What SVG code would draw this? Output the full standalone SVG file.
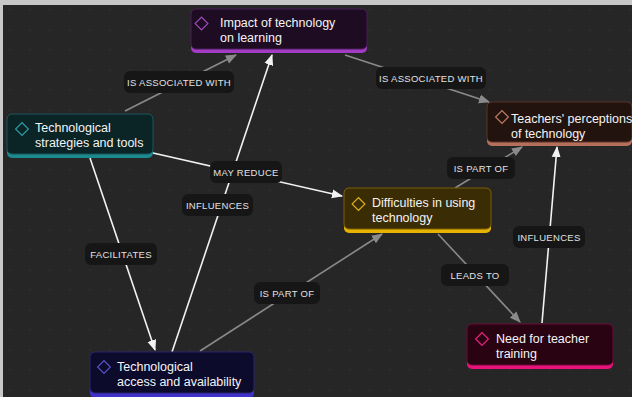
<svg xmlns="http://www.w3.org/2000/svg" width="632" height="397" viewBox="0 0 632 397">
<defs>
<pattern id="dots" width="20" height="20" patternUnits="userSpaceOnUse"><circle cx="10" cy="10" r="0.8" fill="#363636"/></pattern>
<marker id="aw" viewBox="0 0 10 10" refX="9" refY="5" markerWidth="7" markerHeight="7" orient="auto"><path d="M0,1 L10,5 L0,9 z" fill="#f2f2f2"/></marker>
<marker id="ag" viewBox="0 0 10 10" refX="9" refY="5" markerWidth="7" markerHeight="7" orient="auto"><path d="M0,1 L10,5 L0,9 z" fill="#8a8a8a"/></marker>
<style>
.w{stroke:#f2f2f2;stroke-width:1.6;fill:none;marker-end:url(#aw)}
.g{stroke:#8a8a8a;stroke-width:1.6;fill:none;marker-end:url(#ag)}
.lb{fill:#161616}
.lt{font-family:"Liberation Sans",Arial,sans-serif;font-size:9.5px;fill:#e2e2e2;text-anchor:middle;letter-spacing:0.3px}
.nt{font-family:"Liberation Sans",Arial,sans-serif;font-size:12.5px;fill:#f4f4f4}
.dm{fill:none;stroke-width:1.2}
</style>
</defs>
<rect width="632" height="397" fill="#c8c8c8"/>
<rect x="3" y="5" width="629" height="392" fill="#262626"/>
<rect x="3" y="5" width="629" height="392" fill="url(#dots)"/>
<g id="connectors">
<line class="g" x1="125" y1="111" x2="236" y2="55"/>
<line class="g" x1="345" y1="55" x2="489" y2="102"/>
<line class="w" x1="153" y1="153" x2="342" y2="196"/>
<line class="w" x1="172" y1="352" x2="272" y2="55"/>
<line class="w" x1="90" y1="158" x2="155" y2="350"/>
<line class="g" x1="200" y1="351" x2="382" y2="234"/>
<line class="g" x1="455" y1="188" x2="522" y2="147"/>
<line class="g" x1="438" y1="234" x2="520" y2="322"/>
<line class="w" x1="542" y1="323" x2="557" y2="147"/>
<rect class="lb" x="124" y="71" width="110" height="22" rx="6"/><text class="lt" x="179" y="85.5">IS ASSOCIATED WITH</text>
<rect class="lb" x="376" y="67" width="110" height="22" rx="6"/><text class="lt" x="431" y="81.5">IS ASSOCIATED WITH</text>
<rect class="lb" x="210" y="161" width="72" height="22" rx="6"/><text class="lt" x="246" y="175.5">MAY REDUCE</text>
<rect class="lb" x="182" y="194" width="71" height="22" rx="6"/><text class="lt" x="217.5" y="208.5">INFLUENCES</text>
<rect class="lb" x="85" y="243" width="72" height="22" rx="6"/><text class="lt" x="121" y="257.5">FACILITATES</text>
<rect class="lb" x="254" y="282" width="66" height="22" rx="6"/><text class="lt" x="287" y="296.5">IS PART OF</text>
<rect class="lb" x="447" y="157" width="68" height="22" rx="6"/><text class="lt" x="481" y="171.5">IS PART OF</text>
<rect class="lb" x="441" y="264" width="68" height="22" rx="6"/><text class="lt" x="475" y="278.5">LEADS TO</text>
<rect class="lb" x="513" y="226" width="72" height="22" rx="6"/><text class="lt" x="549" y="240.5">INFLUENCES</text>
</g>
<g id="n-impact">
<rect x="191" y="9" width="176" height="44" rx="5" fill="#a23cc4"/>
<rect x="191" y="9" width="176" height="40" rx="5" fill="#1e0c22" stroke="#4a1d57" stroke-width="1"/>
<rect x="197" y="19" width="9" height="9" class="dm" stroke="#9a4ab8" transform="rotate(45 201.5 23.5)"/>
<text class="nt" x="220" y="27">Impact of technology</text>
<text class="nt" x="220" y="42">on learning</text>
</g>
<g id="n-strategies">
<rect x="7" y="114" width="146" height="44" rx="5" fill="#1a8a8e"/>
<rect x="7" y="114" width="146" height="40" rx="5" fill="#0b2426" stroke="#1c5558" stroke-width="1"/>
<rect x="17.5" y="124.5" width="9" height="9" class="dm" stroke="#2a9ea2" transform="rotate(45 22 129)"/>
<text class="nt" x="35" y="132">Technological</text>
<text class="nt" x="35" y="147">strategies and tools</text>
</g>
<g id="n-teachers">
<rect x="487" y="102" width="145" height="44" rx="5" fill="#b5705c"/>
<rect x="487" y="102" width="145" height="40" rx="5" fill="#22130f" stroke="#5a3328" stroke-width="1"/>
<rect x="497.5" y="112.5" width="9" height="9" class="dm" stroke="#c07a64" transform="rotate(45 502 117)"/>
<text class="nt" x="511" y="123">Teachers' perceptions</text>
<text class="nt" x="511" y="138">of technology</text>
</g>
<g id="n-difficulties">
<rect x="344" y="188" width="147" height="45" rx="5" fill="#e6b400"/>
<rect x="344" y="188" width="147" height="41" rx="5" fill="#3a2c05" stroke="#7a5d08" stroke-width="1"/>
<rect x="354" y="199.5" width="9" height="9" class="dm" stroke="#e0b020" transform="rotate(45 358.5 204)"/>
<text class="nt" x="372" y="207">Difficulties in using</text>
<text class="nt" x="372" y="222">technology</text>
</g>
<g id="n-need">
<rect x="467" y="324" width="146" height="45" rx="5" fill="#e8127a"/>
<rect x="467" y="324" width="146" height="41" rx="5" fill="#2a0312" stroke="#6a0a36" stroke-width="1"/>
<rect x="477.5" y="334.5" width="9" height="9" class="dm" stroke="#e8207e" transform="rotate(45 482 339)"/>
<text class="nt" x="496" y="343">Need for teacher</text>
<text class="nt" x="496" y="358">training</text>
</g>
<g id="n-access">
<rect x="90" y="352" width="164" height="46" rx="5" fill="#4032c8"/>
<rect x="90" y="352" width="164" height="41" rx="5" fill="#0d0b2c" stroke="#2a2470" stroke-width="1"/>
<rect x="99.5" y="362.5" width="9" height="9" class="dm" stroke="#5a50c8" transform="rotate(45 104 367)"/>
<text class="nt" x="117" y="371">Technological</text>
<text class="nt" x="117" y="386">access and availability</text>
</g>
</svg>
